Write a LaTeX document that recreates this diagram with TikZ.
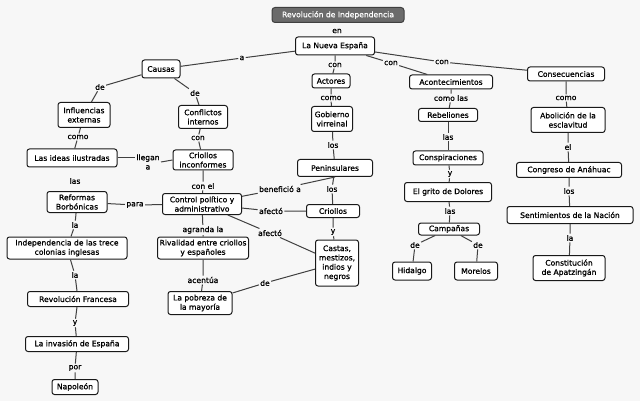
\documentclass[tikz,border=0pt]{standalone}
\usepackage{fontspec}
\setmainfont{DejaVu Sans}[FakeBold=0.9]
\begin{document}
\begin{tikzpicture}[x=1pt,y=-1pt,
  every node/.style={font=\fontsize{7.6}{9.3}\selectfont, align=center},
  cbox/.style={draw=black!90, line width=1pt, rounded corners=2.5pt, fill=white, inner sep=1pt},
  lab/.style={inner sep=1.2pt, text=black},
  ln/.style={draw=black!75, line width=1pt},
  ttl/.style={draw=black!75, line width=1pt, rounded corners=3pt, fill=black!58, text=white, inner sep=1pt}]
\fill[black!3] (0,0) rectangle (640,401);
\useasboundingbox (0,0) rectangle (640,401);

% concept nodes
\node[ttl, minimum width=132, minimum height=15] (title) at (338,15) {Revolución de Independencia};
\node[cbox, minimum width=79, minimum height=18] (lne) at (335,46) {La Nueva España};
\node[cbox, minimum width=38, minimum height=18] (causas) at (161,69) {Causas};
\node[cbox, minimum width=52, minimum height=25] (infl) at (84,115) {Influencias\\externas};
\node[cbox, minimum width=49, minimum height=23] (confl) at (203,117) {Conflictos\\internos};
\node[cbox, minimum width=90, minimum height=18] (ideas) at (72,158) {Las ideas ilustradas};
\node[cbox, minimum width=60, minimum height=20] (crinc) at (203,160) {Criollos\\inconformes};
\node[cbox, minimum width=60, minimum height=21] (refor) at (77,202) {Reformas\\Borbónicas};
\node[cbox, minimum width=79, minimum height=21] (contr) at (202,204) {Control político y\\administrativo};
\node[cbox, minimum width=120, minimum height=22] (indep) at (67,248) {Independencia de las trece\\colonias inglesas};
\node[cbox, minimum width=91, minimum height=22] (rival) at (203,248) {Rivalidad entre criollos\\y españoles};
\node[cbox, minimum width=64, minimum height=23] (pobre) at (200,303) {La pobreza de\\la mayoría};
\node[cbox, minimum width=101, minimum height=15] (revfr) at (78,299) {Revolución Francesa};
\node[cbox, minimum width=103, minimum height=15] (invas) at (77,344) {La invasión de España};
\node[cbox, minimum width=46, minimum height=15] (napol) at (75,387) {Napoleón};
\node[cbox, minimum width=38, minimum height=14] (actor) at (331,81) {Actores};
\node[cbox, minimum width=41, minimum height=25] (gobie) at (332,119) {Gobierno\\virreinal};
\node[cbox, minimum width=75, minimum height=17] (penin) at (335,168) {Peninsulares};
\node[cbox, minimum width=53, minimum height=13] (crior) at (333,211) {Criollos};
\node[cbox, minimum width=43, minimum height=46] (casta) at (337,263) {Castas,\\mestizos,\\indios y\\negros};
\node[cbox, minimum width=83, minimum height=14] (acont) at (451,82) {Acontecimientos};
\node[cbox, minimum width=59, minimum height=13] (rebel) at (448,115) {Rebeliones};
\node[cbox, minimum width=70, minimum height=14] (consp) at (448,158) {Conspiraciones};
\node[cbox, minimum width=87, minimum height=19] (grito) at (448,192) {El grito de Dolores};
\node[cbox, minimum width=61, minimum height=12] (campa) at (449,229) {Campañas};
\node[cbox, minimum width=39, minimum height=18] (hidal) at (412,271) {Hidalgo};
\node[cbox, minimum width=43, minimum height=18] (morel) at (476,271) {Morelos};
\node[cbox, minimum width=77, minimum height=14] (conse) at (566,74) {Consecuencias};
\node[cbox, minimum width=74, minimum height=25] (aboli) at (568,120) {Abolición de la\\esclavitud};
\node[cbox, minimum width=105, minimum height=15] (congr) at (569,170) {Congreso de Anáhuac};
\node[cbox, minimum width=126, minimum height=17] (senti) at (570,215) {Sentimientos de la Nación};
\node[cbox, minimum width=72, minimum height=25] (const) at (569,268) {Constitución\\de Apatzingán};

% linking phrases
\node[lab] (en) at (337,31) {en};
\node[lab] (la) at (242,58) {a};
\node[lab] (de1) at (100,87) {de};
\node[lab] (de2) at (195,93) {de};
\node[lab] (como1) at (78,137) {como};
\node[lab] (con1) at (198,138) {con};
\node[lab] (llega) at (148,162) {llegan\\a};
\node[lab] (las1) at (75,181) {las};
\node[lab] (para) at (135,205) {para};
\node[lab] (conel) at (203,186) {con el};
\node[lab] (la1) at (75,225) {la};
\node[lab] (agran) at (203,230) {agranda la};
\node[lab] (acent) at (203,280) {acentúa};
\node[lab] (la2) at (75,275) {la};
\node[lab] (y1) at (75,323) {y};
\node[lab] (por) at (75,368) {por};
\node[lab] (con2) at (335,65) {con};
\node[lab] (como2) at (331,98) {como};
\node[lab] (los1) at (333,145) {los};
\node[lab] (benef) at (280,189) {benefició a};
\node[lab] (los2) at (332,189) {los};
\node[lab] (afec1) at (271,211) {afectó};
\node[lab] (y2) at (333,232) {y};
\node[lab] (afec2) at (270,233) {afectó};
\node[lab] (de3) at (265,283) {de};
\node[lab] (con3) at (391,63) {con};
\node[lab] (con4) at (442,62) {con};
\node[lab] (comol) at (451,98) {como las};
\node[lab] (las2) at (448,137) {las};
\node[lab] (y3) at (450,174) {y};
\node[lab] (las3) at (450,211) {las};
\node[lab] (de4) at (415,245) {de};
\node[lab] (de5) at (478,245) {de};
\node[lab] (como3) at (566,98) {como};
\node[lab] (el) at (568,147) {el};
\node[lab] (los3) at (569,191) {los};
\node[lab] (la3) at (570,238) {la};

% connectors
\path[ln] (lne) -- (la) -- (causas);
\path[ln] (causas) -- (de1) -- (infl);
\path[ln] (causas) -- (de2) -- (confl);
\path[ln] (infl) -- (como1) -- (ideas);
\path[ln] (confl) -- (con1) -- (crinc);
\path[ln] (ideas.east) -- (llega.west |- ideas.east);
\path[ln] (llega.east) -- (crinc.west);
\path[ln] (refor) -- (para) -- (contr);
\path[ln] (crinc) -- (conel) -- (contr);
\path[ln] (refor) -- (la1) -- (indep);
\path[ln] (indep) -- (la2) -- (revfr);
\path[ln] (revfr) -- (y1) -- (invas);
\path[ln] (invas) -- (por) -- (napol);
\path[ln] (contr) -- (agran) -- (rival);
\path[ln] (rival) -- (acent) -- (pobre);
\path[ln] (casta) -- (de3) -- (pobre);
\path[ln] (contr) -- (afec2) -- (casta);
\path[ln] (crior) -- (afec1) -- (contr);
\path[ln] (penin.south) -- (benef) -- (contr);
\path[ln] (lne) -- (con2) -- (actor);
\path[ln] (actor) -- (como2) -- (gobie);
\path[ln] (gobie) -- (los1) -- (penin);
\path[ln] (penin) -- (los2) -- (crior);
\path[ln] (crior) -- (y2) -- (casta);
\path[ln] (lne) -- (con3) -- (acont);
\path[ln] (lne) -- (con4) -- (conse);
\path[ln] (acont) -- (comol) -- (rebel);
\path[ln] (rebel) -- (las2) -- (consp);
\path[ln] (consp) -- (y3) -- (grito);
\path[ln] (grito) -- (las3) -- (campa);
\path[ln] (campa) -- (de4) -- (hidal);
\path[ln] (campa) -- (de5) -- (morel);
\path[ln] (conse) -- (como3) -- (aboli);
\path[ln] (aboli) -- (el) -- (congr);
\path[ln] (congr) -- (los3) -- (senti);
\path[ln] (senti) -- (la3) -- (const);
\end{tikzpicture}
\end{document}
